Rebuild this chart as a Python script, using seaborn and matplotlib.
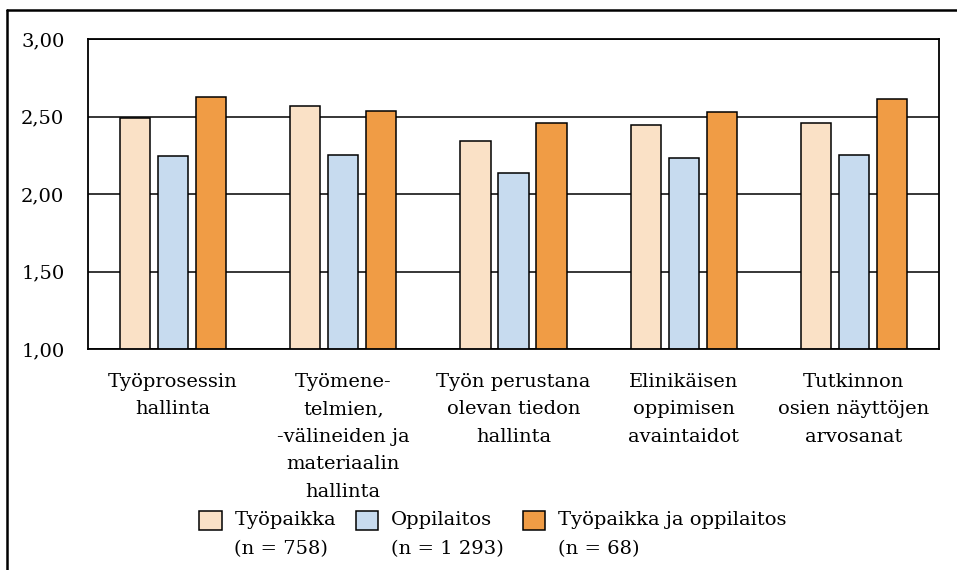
import numpy as np
import pandas as pd
import seaborn as sns
import matplotlib.pyplot as plt
from matplotlib.patches import Patch
from matplotlib.lines import Line2D

# kategoriat ja arvot
categories = ["Työprosessin\nhallinta",
              "Työmene-\ntelmien,\n-välineiden ja\nmateriaalin\nhallinta",
              "Työn perustana\nolevan tiedon\nhallinta",
              "Elinikäisen\noppimisen\navaintaidot",
              "Tutkinnon\nosien näyttöjen\narvosanat"]
series = ["Työpaikka\n(n = 758)", "Oppilaitos\n(n = 1 293)", "Työpaikka ja oppilaitos\n(n = 68)"]
tyopaikka = [2.49, 2.57, 2.34, 2.445, 2.46]
oppilaitos = [2.245, 2.25, 2.135, 2.23, 2.25]
molemmat = [2.625, 2.535, 2.46, 2.53, 2.61]
colors = ["#FAE1C6", "#C7DBEF", "#F09C45"]
yticks = [1.0, 1.5, 2.0, 2.5, 3.0]

df = pd.DataFrame({
    "kategoria": categories * 3,
    "ryhma": [series[0]] * 5 + [series[1]] * 5 + [series[2]] * 5,
    "arvo": tyopaikka + oppilaitos + molemmat,
})

sns.set_style("white")
plt.rcParams['font.family'] = ['DejaVu Serif']
plt.rcParams['font.size'] = 14
plt.rcParams['text.color'] = 'black'
plt.rcParams['xtick.color'] = 'black'
plt.rcParams['ytick.color'] = 'black'

fig = plt.figure(figsize=(9.57, 5.70), dpi=100)
ax = fig.add_axes([88 / 957, 1 - 349 / 570, (939 - 88) / 957, (349 - 39) / 570])

sns.barplot(data=df, x="kategoria", y="arvo", hue="ryhma", hue_order=series,
            palette=colors, saturation=1, order=categories, width=0.67, gap=0.21,
            edgecolor="black", linewidth=1.1, errorbar=None, legend=False, ax=ax)

ax.set_ylim(1, 3)
ax.set_yticks(yticks)
ax.set_yticklabels([f"{v:.2f}".replace(".", ",") for v in yticks])
ax.yaxis.grid(True, color="black", linewidth=1.1)
ax.set_axisbelow(True)
ax.set_xlabel("")
ax.set_ylabel("")
for s in ax.spines.values():
    s.set_visible(True)
    s.set_color("black")
    s.set_linewidth(1.3)
ax.tick_params(axis="x", length=0, pad=17, labelsize=14)
ax.tick_params(axis="y", length=0, pad=17, labelsize=14)
for lab in ax.get_xticklabels():
    lab.set_linespacing(1.68)
    lab.set_verticalalignment("top")

handles = [Patch(facecolor=c, edgecolor="black", linewidth=1.1) for c in colors]
leg = fig.legend(handles, series, loc="upper center", bbox_to_anchor=(0.515, 1 - 511 / 570),
                 ncol=3, frameon=False, handlelength=1.15, handleheight=1.15,
                 handletextpad=0.65, columnspacing=1.0, borderaxespad=0, borderpad=0)
for t in leg.get_texts():
    t.set_linespacing(1.8)
# merkki ylärivin kohdalle
for col in leg._legend_handle_box.get_children():
    for row in col.get_children():
        row.align = "top"

# kuvan reunaviivat
fig.add_artist(Line2D([6.5 / 957, 1], [1 - 9.5 / 570, 1 - 9.5 / 570], color="black", linewidth=1.8))
fig.add_artist(Line2D([6.5 / 957, 6.5 / 957], [0, 1 - 9.5 / 570], color="black", linewidth=1.8))

fig.savefig("out.png", dpi=100)
